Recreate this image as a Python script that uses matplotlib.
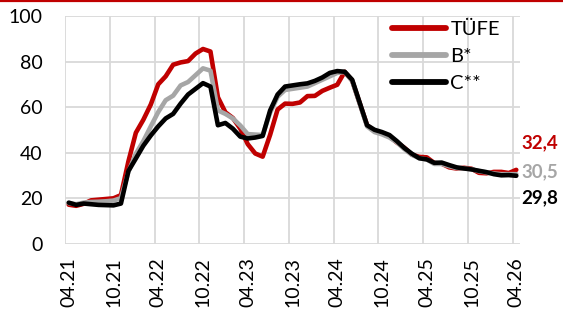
import matplotlib
matplotlib.use("Agg")
import matplotlib.pyplot as plt
from matplotlib.lines import Line2D
from matplotlib.ticker import FixedLocator
import numpy as np

plt.rcParams["font.family"] = ["Lato", "DejaVu Sans"]

# monthly series, 04.21 ... 04.26 (annual % change)
tufe = [17.1, 16.6, 17.5, 19.0, 19.3, 19.6, 19.9, 21.3, 36.1, 48.7,
        54.4, 61.1, 70.0, 73.5, 78.6, 79.6, 80.2, 83.5, 85.5, 84.4,
        64.3, 57.7, 55.2, 50.5, 43.7, 39.6, 38.2, 47.8, 58.9, 61.5,
        61.4, 62.0, 64.8, 64.9, 67.1, 68.5, 69.8, 75.5, 71.6, 61.8,
        52.0, 49.4, 48.6, 47.1, 44.4, 42.1, 39.1, 38.1, 37.9, 35.4,
        35.1, 33.5, 33.0, 33.3, 32.9, 31.1, 30.9, 31.5, 31.5, 31.0,
        32.4]
b_idx = [17.8, 17.3, 18.0, 18.3, 18.4, 18.6, 18.9, 20.0, 31.5, 39.5,
         45.0, 51.5, 57.8, 63.0, 65.0, 69.5, 71.0, 74.0, 77.0, 76.0,
         58.5, 57.0, 55.0, 51.9, 48.1, 47.9, 47.7, 57.5, 64.5, 67.5,
         68.0, 68.5, 69.0, 70.5, 72.0, 73.5, 75.0, 75.4, 71.5, 61.5,
         51.5, 49.0, 48.0, 46.6, 44.5, 41.5, 39.0, 37.5, 37.0, 35.0,
         35.0, 34.0, 33.2, 33.0, 32.7, 31.8, 31.3, 30.8, 30.5, 30.5,
         30.5]
c_idx = [18.0, 17.0, 17.6, 17.3, 17.0, 16.9, 16.8, 17.6, 31.9, 37.4,
         43.0, 47.5, 51.5, 55.0, 57.0, 61.5, 65.5, 68.0, 70.5, 69.0,
         52.0, 53.0, 50.5, 47.0, 46.2, 46.6, 47.3, 58.5, 65.5, 69.0,
         69.5, 70.0, 70.4, 71.5, 73.0, 75.0, 75.8, 75.5, 72.0, 62.0,
         52.0, 50.0, 49.0, 47.7, 45.0, 42.0, 39.5, 37.5, 37.0, 35.5,
         35.6, 34.5, 33.5, 33.0, 32.6, 32.0, 31.4, 30.5, 30.0, 30.1,
         29.8]
tick_labels = ["04.21", "10.21", "04.22", "10.22", "04.23", "10.23",
               "04.24", "10.24", "04.25", "10.25", "04.26"]
series_names = ["TÜFE", "B*", "C**"]

RED = "#c00000"
GRAY = "#a6a6a6"
BLACK = "#000000"

n = len(tufe)
x = np.arange(n) + 0.5

fig = plt.figure(figsize=(5.63, 3.15), dpi=100)
ax = fig.add_axes([65 / 563, 1 - 243.6 / 315, 455 / 563, 227.6 / 315])

ax.plot(x, tufe, color=RED, lw=3.3, label=series_names[0], solid_capstyle="round", zorder=3)
ax.plot(x, b_idx, color=GRAY, lw=3.3, label=series_names[1], solid_capstyle="round", zorder=4)
ax.plot(x, c_idx, color=BLACK, lw=3.3, label=series_names[2], solid_capstyle="round", zorder=5)

ax.set_xlim(0, n)
ax.set_ylim(0, 100)
ax.set_yticks(range(0, 101, 20))
ax.set_xticks(np.arange(0, n, 6) + 0.5)
ax.set_xticklabels(tick_labels, rotation=90)
ax.xaxis.set_minor_locator(FixedLocator(np.arange(0, n, 6)))
ax.grid(axis="y", color="#d9d9d9", lw=1.3)
ax.grid(axis="x", which="minor", color="#d9d9d9", lw=1.3)
ax.set_axisbelow(True)
for s in ax.spines.values():
    s.set_visible(False)
ax.tick_params(axis="y", length=0, pad=16, labelsize=14)
ax.tick_params(axis="x", which="both", length=0, pad=10, labelsize=14)

# end-of-line values
end_vals = [tufe[-1], b_idx[-1], c_idx[-1]]
offsets = [27, 2, -22]
for val, col, off in zip(end_vals, [RED, GRAY, BLACK], offsets):
    ax.annotate(f"{val:.1f}".replace(".", ","), xy=(n, val), xytext=(1, off),
                textcoords="offset pixels", ha="left", va="center",
                color=col, fontsize=13.5, fontweight="bold", annotation_clip=False)

leg = fig.legend(loc="upper left", bbox_to_anchor=(392 / 563, 1 - 21 / 315),
                 frameon=False, fontsize=14.5, handlelength=2.7,
                 handletextpad=0.2, labelspacing=0.5, borderpad=0,
                 borderaxespad=0)
for h in leg.get_lines():
    h.set_linewidth(4.2)

fig.add_artist(Line2D([0, 1], [0.997, 0.997], color=RED, lw=1.6,
                      transform=fig.transFigure))

fig.savefig("out.png", dpi=100)
